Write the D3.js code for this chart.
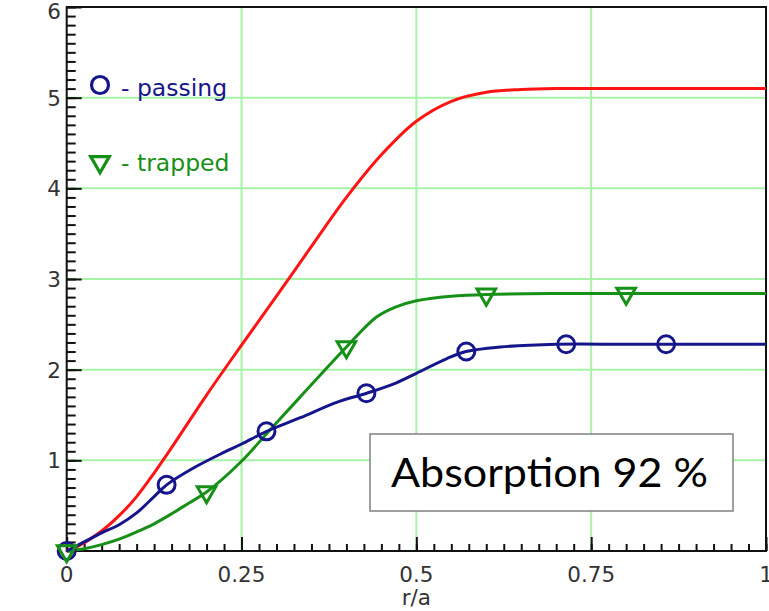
<!DOCTYPE html>
<html><head><meta charset="utf-8">
<script src="https://cdn.jsdelivr.net/npm/d3@7"></script>
<style>body{margin:0;background:#fff}svg{display:block}</style>
</head><body>
<script>
// ---- data ----
const redX   = [0,0.025,0.05,0.075,0.1,0.125,0.15,0.2,0.25,0.3,0.35,0.4,0.45,0.5,0.55,0.6,0.65,0.7,0.8,0.9,1.0];
const redY   = [0,0.09,0.22,0.39,0.6,0.86,1.14,1.72,2.27,2.81,3.36,3.9,4.37,4.74,4.96,5.06,5.09,5.1,5.1,5.1,5.1];
const passX  = [0,0.025,0.05,0.075,0.1,0.125,0.143,0.18,0.22,0.25,0.286,0.334,0.386,0.429,0.467,0.5,0.543,0.571,0.62,0.7,0.8,0.9,1.0];
const passY  = [0,0.1,0.2,0.29,0.42,0.6,0.73,0.91,1.07,1.18,1.32,1.47,1.64,1.74,1.84,1.96,2.12,2.2,2.25,2.28,2.28,2.28,2.28];
const passMarkX = [0,1/7,2/7,3/7,4/7,5/7,6/7];
const passMarkY = [0,0.73,1.32,1.74,2.2,2.28,2.28];
const trapX  = [0,0.025,0.05,0.075,0.1,0.125,0.15,0.175,0.2,0.25,0.29,0.334,0.4,0.443,0.47,0.5,0.55,0.6,0.7,0.8,0.9,1.0];
const trapY  = [0,0.025,0.07,0.13,0.21,0.3,0.41,0.53,0.65,0.99,1.33,1.7,2.25,2.58,2.69,2.76,2.81,2.83,2.84,2.84,2.84,2.84];
const trapMarkX = [0,0.2,0.4,0.6,0.8];
const trapMarkY = [0,0.65,2.25,2.83,2.84];
const xTicks = [0,0.25,0.5,0.75,1];
const xTickLabels = ["0","0.25","0.5","0.75","1"];
const yTicks = [1,2,3,4,5,6];
const yTickLabels = ["1","2","3","4","5","6"];
const legendLabels = ["- passing","- trapped"];
const noteText = "Absorption 92 %";
const xTitle = "r/a";

const W=769,H=611;
const x=d3.scaleLinear().domain([0,1]).range([66.7,766]);
const y=d3.scaleLinear().domain([0,6]).range([551,7]);
const svg=d3.select("body").append("svg").attr("width",W).attr("height",H);

const gridC="#a8f2a8", blue="#16168c", green="#179017", red="#ff1414";

// grid
svg.append("g").selectAll("line").data([1,2,3,4,5]).join("line")
  .attr("x1",x(0)).attr("x2",x(1)).attr("y1",d=>y(d)).attr("y2",d=>y(d))
  .attr("stroke",gridC).attr("stroke-width",2);
svg.append("g").selectAll("line").data([0.25,0.5,0.75]).join("line")
  .attr("y1",y(0)).attr("y2",y(6)).attr("x1",d=>x(d)).attr("x2",d=>x(d))
  .attr("stroke",gridC).attr("stroke-width",2);

// axes (ticks inward)
const minorX=d3.range(0,41).map(i=>i*0.025);
const minorY=d3.range(0,61).map(i=>i*0.1);
function styleAxis(g){g.select(".domain").remove();g.selectAll("line").attr("stroke","#111").attr("stroke-width",2);g.selectAll("text").remove();}
svg.append("g").attr("transform",`translate(0,${y(0)})`).call(d3.axisBottom(x).tickValues(minorX).tickSize(-7)).call(styleAxis);
svg.append("g").attr("transform",`translate(0,${y(0)})`).call(d3.axisBottom(x).tickValues(xTicks).tickSize(-14)).call(styleAxis);
svg.append("g").attr("transform",`translate(${x(0)},0)`).call(d3.axisLeft(y).tickValues(minorY).tickSize(-9)).call(styleAxis);
svg.append("g").attr("transform",`translate(${x(0)},0)`).call(d3.axisLeft(y).tickValues(yTicks).tickSize(-15)).call(styleAxis);

// frame
svg.append("rect").attr("x",x(0)).attr("y",y(6)).attr("width",x(1)-x(0)).attr("height",y(0)-y(6))
  .attr("fill","none").attr("stroke","#111").attr("stroke-width",2);

// tick labels
const tf="'DejaVu Sans', Verdana, sans-serif";
svg.append("g").selectAll("text").data(xTicks).join("text")
  .attr("x",d=>x(d)).attr("y",581.5).attr("text-anchor","middle")
  .attr("font-family",tf).attr("font-size",21.5).attr("fill","#333")
  .text((d,i)=>xTickLabels[i]);
svg.append("g").selectAll("text").data(yTicks).join("text")
  .attr("x",61).attr("y",d=>Math.max(y(d),11)+8).attr("text-anchor","end")
  .attr("font-family",tf).attr("font-size",21.5).attr("fill","#333")
  .text((d,i)=>yTickLabels[i]);
svg.append("text").attr("x",x(0.5)).attr("y",605).attr("text-anchor","middle")
  .attr("font-family",tf).attr("font-size",21.5).attr("fill","#333").text(xTitle);

// curves
const line=d3.line().x(d=>x(d[0])).y(d=>y(d[1])).curve(d3.curveCatmullRom.alpha(0.5));
svg.append("path").datum(redX.map((v,i)=>[v,redY[i]])).attr("d",line)
  .attr("fill","none").attr("stroke",red).attr("stroke-width",3);
svg.append("path").datum(trapX.map((v,i)=>[v,trapY[i]])).attr("d",line)
  .attr("fill","none").attr("stroke",green).attr("stroke-width",3);
svg.append("path").datum(passX.map((v,i)=>[v,passY[i]])).attr("d",line)
  .attr("fill","none").attr("stroke",blue).attr("stroke-width",3);

// markers
svg.append("g").selectAll("circle").data(passMarkX).join("circle")
  .attr("cx",d=>x(d)).attr("cy",(d,i)=>y(passMarkY[i])).attr("r",8.5)
  .attr("fill","none").attr("stroke",blue).attr("stroke-width",3);
const tri=d3.symbol().type(d3.symbolTriangle).size(150);
svg.append("g").selectAll("path").data(trapMarkX).join("path")
  .attr("d",tri).attr("transform",(d,i)=>`translate(${x(d)},${y(trapMarkY[i])}) rotate(180)`)
  .attr("fill","none").attr("stroke",green).attr("stroke-width",3);

// legend
svg.append("circle").attr("cx",100).attr("cy",85).attr("r",8.5).attr("fill","none").attr("stroke",blue).attr("stroke-width",3.2);
svg.append("path").attr("d",tri).attr("transform","translate(100,162) rotate(180)").attr("fill","none").attr("stroke",green).attr("stroke-width",3.2);
svg.append("text").attr("x",121).attr("y",96).attr("font-family",tf).attr("font-size",23.5).attr("fill",blue).text(legendLabels[0]);
svg.append("text").attr("x",121).attr("y",171).attr("font-family",tf).attr("font-size",23.5).attr("fill",green).text(legendLabels[1]);

// annotation box
svg.append("rect").attr("x",370).attr("y",434).attr("width",363).attr("height",77)
  .attr("fill","#fff").attr("stroke","#808080").attr("stroke-width",1.5);
svg.append("text").attr("x",391).attr("y",487).attr("font-family","Lato, 'Open Sans', sans-serif")
  .attr("font-size",41).attr("fill","#000").attr("textLength",317).attr("lengthAdjust","spacingAndGlyphs").text(noteText);
</script>
</body></html>
